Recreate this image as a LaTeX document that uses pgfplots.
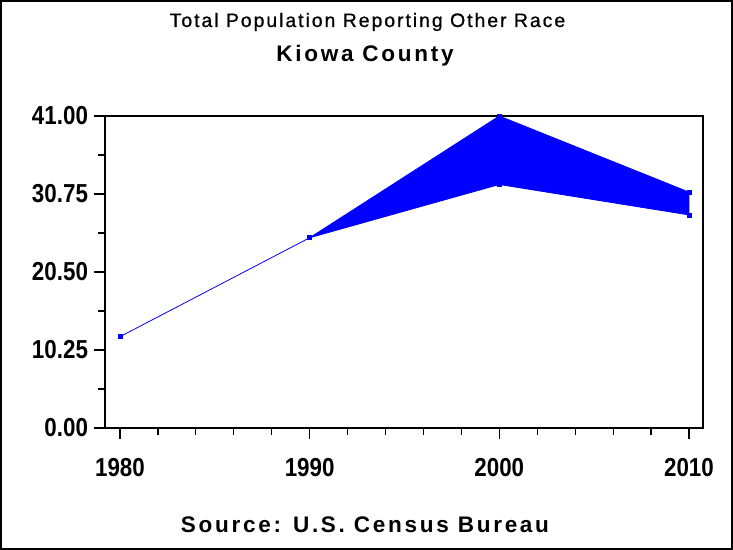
\documentclass[border=0pt]{standalone}
\usepackage{fontspec}
\setmainfont{Liberation Sans}
\newfontfamily\titlefont[LetterSpace=10, FakeBold=0.8]{Liberation Sans}
\newfontfamily\spacedfont[LetterSpace=12]{Liberation Sans}
\newfontfamily\tickfont[FakeStretch=0.86]{Liberation Sans}
\usepackage{pgfplots}
\pgfplotsset{compat=1.18}
\begin{document}
\begin{tikzpicture}[x=1pt,y=1pt]
\useasboundingbox (0,0) rectangle (549.75,412.5);
\draw[line width=1.2pt] (0.6,0.6) rectangle (549.15,411.9);
\begin{axis}[
  at={(78.75pt,91.5pt)}, anchor=south west,
  scale only axis, width=448.5pt, height=234pt,
  xmin=1979.21, xmax=2010.74, ymin=0, ymax=41,
  axis line style={line width=1pt},
  every tick/.style={black, line width=0.9pt},
  tick align=outside, xtick pos=bottom, ytick pos=left,
  xtick={1980,1990,2000,2010}, minor x tick num=4,
  ytick={0,10.25,20.5,30.75,41}, minor y tick num=1,
  major tick length=8.25pt, minor tick length=5pt,
  xticklabel style={/pgf/number format/1000 sep={}, yshift=-11pt},
  yticklabel style={/pgf/number format/fixed, /pgf/number format/fixed zerofill, /pgf/number format/precision=2, xshift=-1pt},
  /pgf/number format/assume math mode=true,
  ticklabel style={font=\tickfont\bfseries\fontsize{19.5}{21}\selectfont},
]
\addplot[blue, line width=0.6pt, mark=square*, mark size=1.5pt, mark options={fill=blue}] coordinates {(1980,12) (1990,25)};
\addplot[blue, fill=blue, draw=blue, line width=0.6pt] coordinates {(1990,25) (2000,41) (2010,31) (2010,28) (2000,32) (1990,25)} -- cycle;
\addplot[blue, only marks, mark=square*, mark size=1.5pt] coordinates {(2000,41) (2000,32) (2010,31) (2010,28)};
\end{axis}
\node[anchor=base] at (275.6,392.25) {\titlefont\fontsize{14.6}{16}\selectfont Total Population Reporting Other Race};
\node[anchor=base] at (273.75,366) {\spacedfont\bfseries\fontsize{16.9}{18}\selectfont Kiowa County};
\node[anchor=base] at (273.75,12.75) {\spacedfont\bfseries\fontsize{16.9}{18}\selectfont Source: U.S. Census Bureau};
\end{tikzpicture}
\end{document}
